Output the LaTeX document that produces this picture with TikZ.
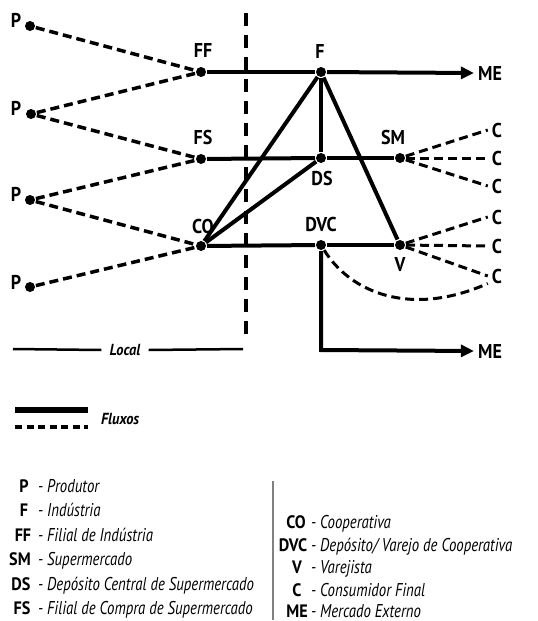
\documentclass[tikz,border=0pt]{standalone}
\usepackage{fontspec}
\setmainfont{PT Sans}[FakeStretch=0.9]
\newfontfamily\descfont{PT Sans}[FakeStretch=0.8]
\usetikzlibrary{arrows.meta}
\begin{document}
\begin{tikzpicture}[x=1pt,y=-1pt,
  dot/.style={circle,fill=black,inner sep=0pt,minimum size=10pt,outer sep=1pt},
  lbl/.style={font=\fontsize{20}{20}\selectfont\bfseries,inner sep=0pt},
  sflow/.style={line width=4pt},
  dflow/.style={line width=3.5pt,dash pattern=on 9pt off 5pt},
  cflow/.style={line width=3pt,dash pattern=on 9pt off 5pt},
  arr/.style={-{Triangle[length=13pt,width=12pt]}},
  abbr/.style={font=\fontsize{18}{18}\selectfont\bfseries,inner sep=0pt},
  desc/.style={font=\descfont\fontsize{18.5}{18.5}\selectfont\itshape,inner sep=0pt,anchor=base west},
]
\useasboundingbox (0,0) rectangle (538,621);
% dots
\node[dot] (P1) at (30,26) {};
\node[dot] (P2) at (31,114) {};
\node[dot] (P3) at (30,200) {};
\node[dot] (P4) at (30,287) {};
\node[dot] (FF) at (201,72) {};
\node[dot] (FS) at (201,159) {};
\node[dot] (CO) at (201,246) {};
\node[dot] (F) at (321,72) {};
\node[dot] (DS) at (321,158) {};
\node[dot] (SM) at (400,158) {};
\node[dot] (DVC) at (321,245) {};
\node[dot] (V) at (400,245) {};
% labels
\foreach \n/\y in {1/20,2/108,3/194,4/282} \node[lbl] (lP\n) at (16,\y) {P};
\node[lbl] (lFF) at (203,50) {FF};
\node[lbl] (lFS) at (203,137) {FS};
\node[lbl] (lCO) at (203,226) {CO};
\node[lbl] (lF) at (320,51) {F};
\node[lbl] (lDS) at (322,178) {DS};
\node[lbl] (lSM) at (393,137) {SM};
\node[lbl] (lDVC) at (321,224) {DVC};
\node[lbl] (lV) at (400,265) {V};
\node[lbl] (ME1) at (490,73) {ME};
\node[lbl] (ME2) at (490,351) {ME};
\node[lbl] (C1) at (497,130) {C};
\node[lbl] (C2) at (497,158) {C};
\node[lbl] (C3) at (497,186) {C};
\node[lbl] (C4) at (497,217) {C};
\node[lbl] (C5) at (497,246) {C};
\node[lbl] (C6) at (497,276) {C};
% vertical dashed frontier
\coordinate (vt) at (246,13);
\coordinate (vb) at (246,337);
\draw[line width=3.5pt,dash pattern=on 13pt off 9pt] (vt) -- (vb);
% dashed producer flows
\draw[dflow] (P1) -- (FF);
\draw[dflow] (P2) -- (FF);
\draw[dflow] (P2) -- (FS);
\draw[dflow] (P3) -- (FS);
\draw[dflow] (P3) -- (CO);
\draw[dflow] (P4) -- (CO);
% solid flows
\draw[sflow] (FF) -- (F);
\draw[sflow,arr] (F) -- ([xshift=-4pt]ME1.west);
\draw[sflow] (FS) -- (DS);
\draw[sflow] (DS) -- (SM);
\draw[sflow] (CO) -- (DVC);
\draw[sflow] (DVC) -- (V);
\draw[sflow] (F) -- (DS);
\draw[sflow] (F) -- (V);
\draw[sflow] (F) -- (CO);
\draw[sflow] (DS) -- (CO);
\coordinate (corner) at (321,350);
\draw[sflow,arr] (DVC) -- (corner) -- ([xshift=-4pt]ME2.west);
% consumer flows
\foreach \c in {C1,C2,C3} \draw[cflow] (SM) -- ([xshift=-4pt]\c.west);
\foreach \c in {C4,C5,C6} \draw[cflow] (V) -- ([xshift=-4pt]\c.west);
\draw[cflow] (DVC) .. controls (350,292) and (410,318) .. ([xshift=-4pt]C6.south west);
% local
\node[font=\fontsize{16}{16}\selectfont\bfseries\itshape,inner sep=0pt] (loc) at (125,350) {Local};
\coordinate (l1) at (13,349);
\coordinate (l2) at (243,349);
\draw[line width=2.5pt] (l1) -- ([xshift=-8pt]loc.west);
\draw[line width=2.5pt] ([xshift=8pt]loc.east) -- (l2);
% legend lines
\coordinate (a1) at (15,410); \coordinate (a2) at (88,410);
\coordinate (b1) at (15,427); \coordinate (b2) at (88,427);
\draw[line width=5.5pt] (a1) -- (a2);
\draw[line width=4pt,dash pattern=on 7pt off 4.5pt] (b1) -- (b2);
\node[font=\fontsize{16}{16}\selectfont\bfseries\itshape,inner sep=0pt,anchor=west] (flx) at (101,419) {Fluxos};
% text legend left
\foreach \a/\t/\y/\x in {P/{Produtor}/492/24, F/{Indústria}/516.5/24, FF/{Filial de Indústria}/541/23, SM/{Supermercado}/565.5/20, DS/{Depósito Central de Supermercado}/590/21, FS/{Filial de Compra de Supermercado}/614.5/22} {
  \node[abbr,anchor=base] at (\x,\y) {\a};
  \node[desc] at (38,\y) {- \t};
}
\foreach \a/\t/\y/\x in {CO/{Cooperativa}/528/296, DVC/{Depósito/ Varejo de Cooperativa}/551/293, V/{Varejista}/573/297, C/{Consumidor Final}/596/297, ME/{Mercado Externo}/617/297} {
  \node[abbr,anchor=base] at (\x,\y) {\a};
  \node[desc] at (311,\y) {- \t};
}
\coordinate (s1) at (273,481); \coordinate (s2) at (273,620);
\draw[gray,line width=1.2pt] (s1) -- (s2);
\end{tikzpicture}
\end{document}
